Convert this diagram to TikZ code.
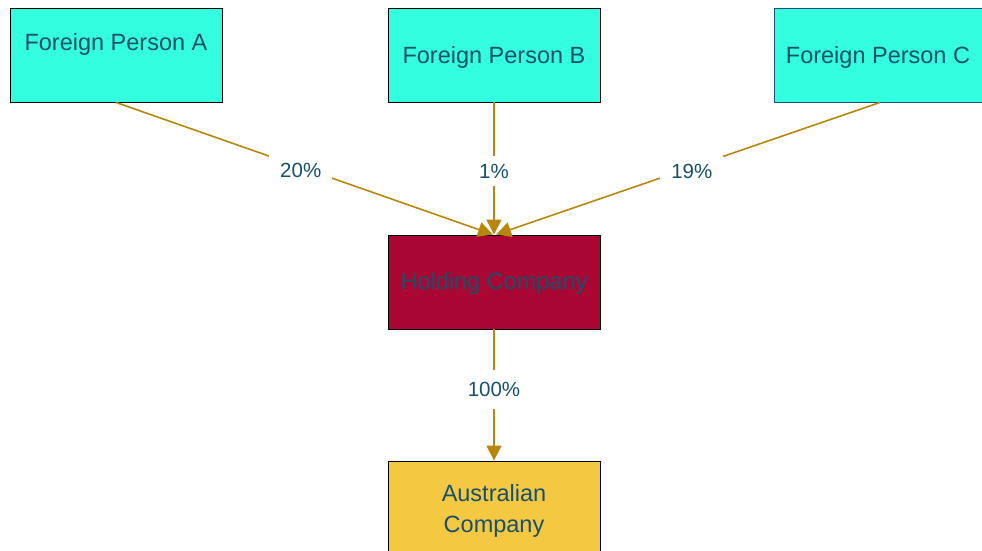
\documentclass[tikz,border=0pt]{standalone}
\usepackage{fontspec}
\setmainfont{Liberation Sans}
\usetikzlibrary{arrows.meta,calc}
\definecolor{boxcyan}{HTML}{33FFE0}
\definecolor{boxred}{HTML}{AA0634}
\definecolor{boxyellow}{HTML}{F5C842}
\definecolor{txt}{HTML}{17506B}
\definecolor{edge}{HTML}{B8860B}
\definecolor{cborder}{HTML}{1F4E79}
\tikzset{
  entity/.style={draw=black, line width=0.9pt, rectangle, minimum width=212pt, minimum height=94pt,
    inner sep=0pt},
  person/.style={entity, fill=boxcyan},
  caption/.style={anchor=center, text=txt, align=center, inner sep=0pt, font=\fontsize{23.5}{31}\selectfont},
  share/.style={draw=edge, line width=1.6pt, -{Triangle[length=15pt,width=15pt]}},
  pct/.style={fill=white, text=txt, inner xsep=11pt, inner ysep=8pt, font=\fontsize{20.5}{24}\selectfont}
}
\begin{document}
\begin{tikzpicture}[x=1pt,y=-1pt]
\useasboundingbox (0,0) rectangle (982,551);
\clip (0,0) rectangle (982,551);
\node[person, label={[caption, yshift=11pt]center:Foreign Person A}] (A) at (116,55) {};
\node[person, label={[caption, yshift=-2pt]center:Foreign Person B}] (B) at (494,55) {};
\node[person, draw=cborder, label={[caption, yshift=-2pt, xshift=-2pt]center:Foreign Person C}] (C) at (880,55) {};
\node[entity, fill=boxred, label={[caption, yshift=-1pt]center:Holding Company}] (H) at (494,282) {};
\node[entity, fill=boxyellow, label={[caption, yshift=-3pt]center:Australian\\Company}] (AU) at (494,508) {};
\draw[share] (A.south) -- node[pct, pos=0.49, yshift=-3pt] {20\%} ($(H.north)+(-1,0)$);
\draw[share] (B.south) -- node[pct, pos=0.52] {1\%} (H.north);
\draw[share] (C.south) -- node[pct, pos=0.49, yshift=-4pt] {19\%} ($(H.north)+(2,0)$);
\draw[share] (H.south) -- node[pct, pos=0.45, inner ysep=12pt, yshift=-1pt] {100\%} (AU.north);
\end{tikzpicture}
\end{document}
